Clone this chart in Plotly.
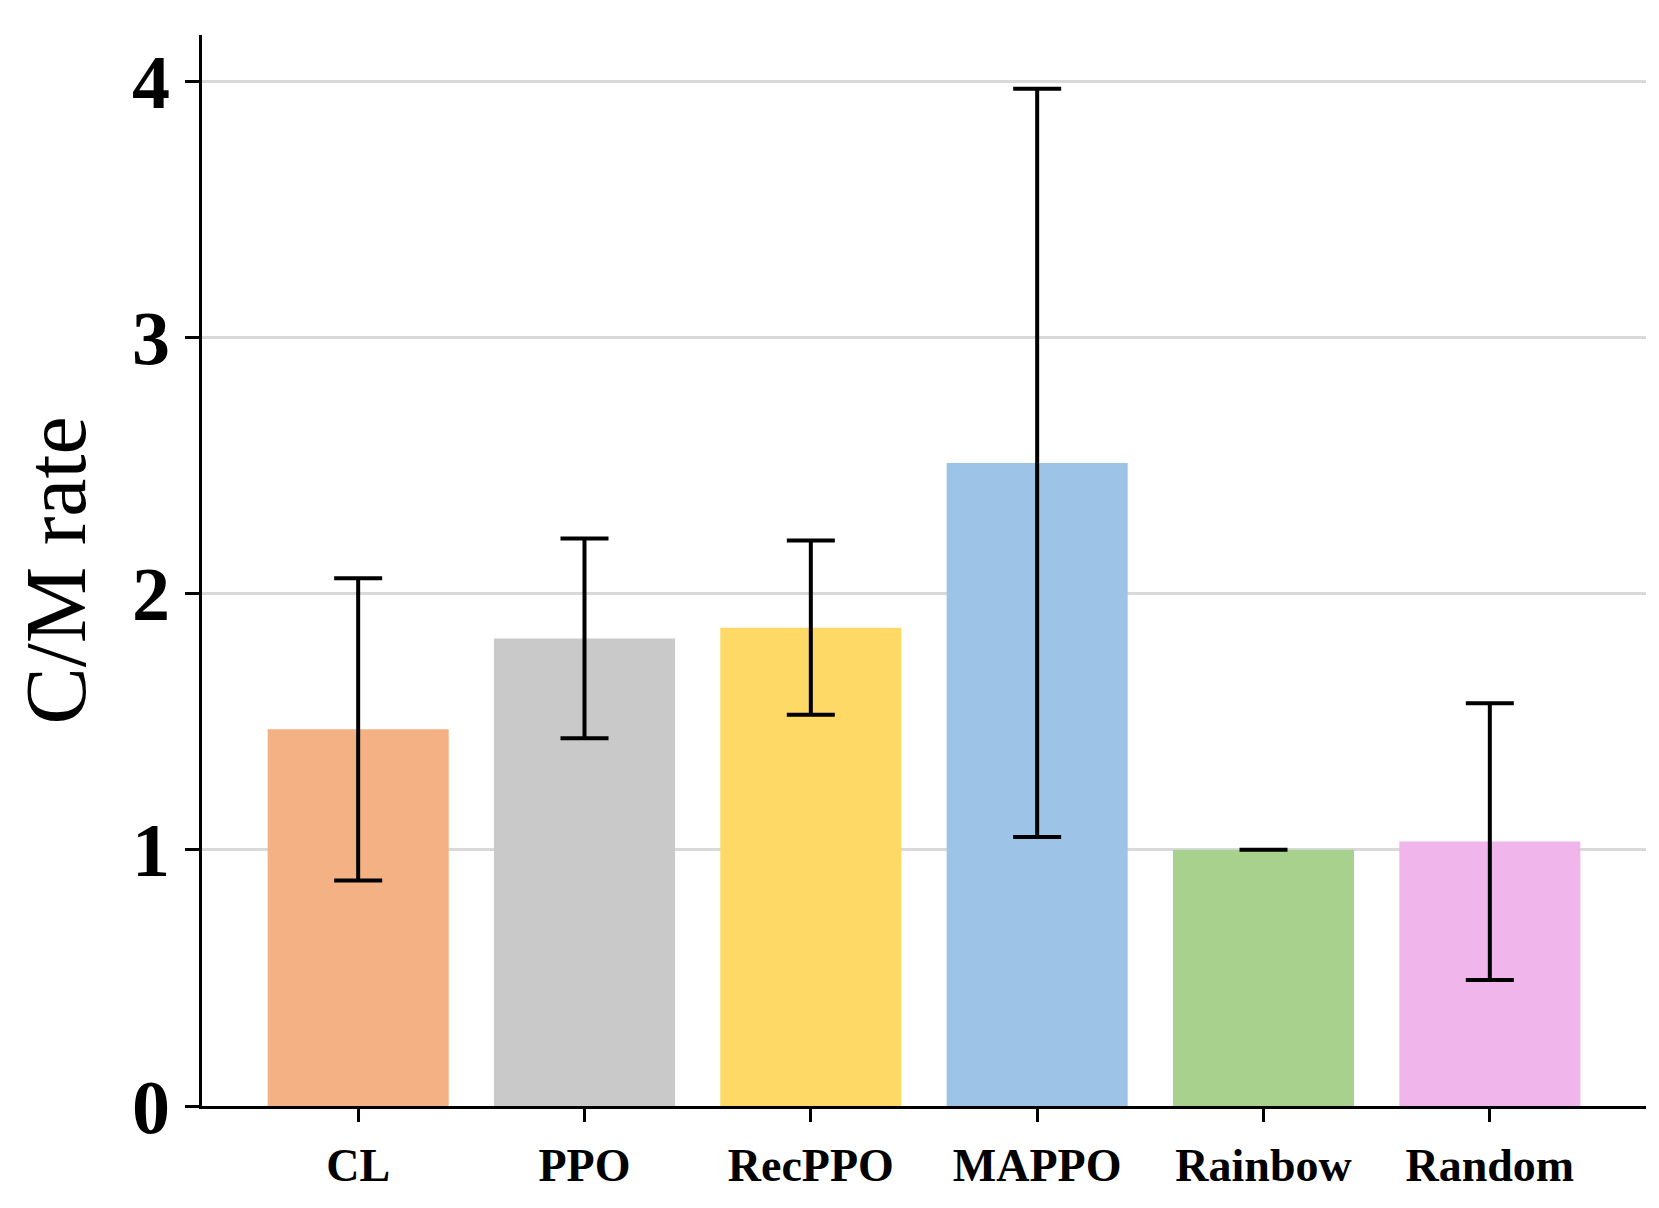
import plotly.graph_objects as go

methods = ["CL", "PPO", "RecPPO", "MAPPO", "Rainbow", "Random"]
cm_rate = [1.47, 1.825, 1.867, 2.51, 1.0, 1.032]
cm_err = [0.59, 0.39, 0.34, 1.46, 0.0, 0.54]
bar_colors = ["#F4B183", "#C9C9C9", "#FFD966", "#9DC3E6", "#A9D18E", "#F0B6EC"]
y_ticks = [0, 1, 2, 3, 4]

fig = go.Figure()
fig.add_trace(go.Bar(
    x=methods,
    y=cm_rate,
    marker=dict(color=bar_colors, line=dict(width=0)),
    width=0.8,
    error_y=dict(type="data", array=cm_err, visible=True,
                 color="black", thickness=4, width=24),
    showlegend=False,
))

fig.update_layout(
    width=1659, height=1208,
    paper_bgcolor="white", plot_bgcolor="white",
    margin=dict(l=194, r=21, t=27, b=110),
    font=dict(family="Liberation Serif", color="black"),
)
fig.update_xaxes(
    range=[-0.69, 5.69],
    showline=True, linecolor="black", linewidth=2.5,
    ticks="outside", ticklen=13, tickwidth=2.5, tickcolor="black",
    tickfont=dict(family="Liberation Serif", size=46, color="black", weight="bold"),
    ticklabelstandoff=4,
    showgrid=False, zeroline=False, mirror=False,
)
fig.update_yaxes(
    range=[0, 4.18],
    tickvals=y_ticks,
    showline=True, linecolor="black", linewidth=2.5,
    ticks="outside", ticklen=14, tickwidth=2.5, tickcolor="black",
    tickfont=dict(family="Liberation Serif", size=76, color="black", weight="bold"),
    showgrid=True, gridcolor="rgba(0,0,0,0.15)", gridwidth=2.5,
    zeroline=False, layer="above traces",
    title=dict(text="C/M rate", font=dict(family="Liberation Serif", size=86, color="black"),
               standoff=30),
)

fig.write_html("out.html")
